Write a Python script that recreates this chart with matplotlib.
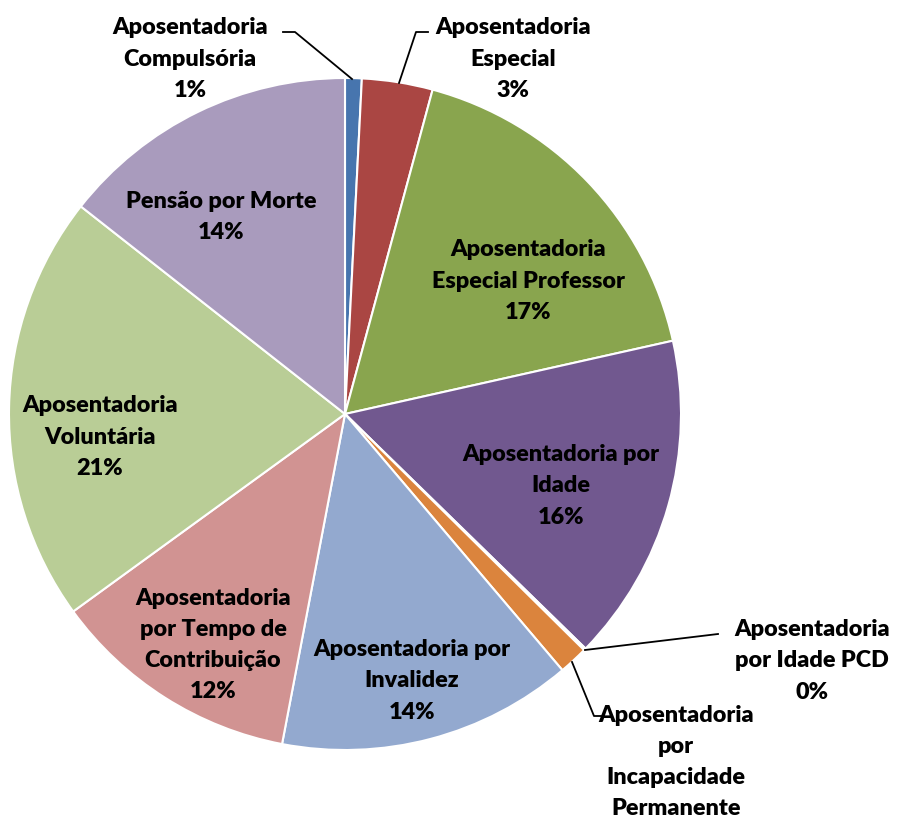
import matplotlib
matplotlib.use("Agg")
import matplotlib.pyplot as plt

categories = [
    "Aposentadoria\nCompulsória",
    "Aposentadoria\nEspecial",
    "Aposentadoria\nEspecial Professor",
    "Aposentadoria por\nIdade",
    "Aposentadoria\npor Idade PCD",
    "Aposentadoria\npor\nIncapacidade\nPermanente",
    "Aposentadoria por\nInvalidez",
    "Aposentadoria\npor Tempo de\nContribuição",
    "Aposentadoria\nVoluntária",
    "Pensão por Morte",
]
values = [0.8, 3.4, 17.3, 15.8, 0.1, 1.4, 14.2, 12.0, 20.6, 14.4]
show_pct = [True, True, True, True, True, False, True, True, True, True]
colors = ["#4775AE", "#AA4643", "#89A54E", "#71588F", "#4198AF",
          "#DB843D", "#93A9CF", "#D19392", "#B9CD96", "#A99BBD"]

W, H = 899, 828
fig = plt.figure(figsize=(W / 100, H / 100), dpi=100)
ax = fig.add_axes([0, 0, 1, 1])
ax.axis("off")

cx, cy, R = 345, 415, 336
ax.pie(values, colors=colors, startangle=90, counterclock=False,
       center=(cx, H - cy), radius=R,
       wedgeprops=dict(edgecolor="white", linewidth=1.5))
ax.set_xlim(0, W)
ax.set_ylim(0, H)
ax.set_aspect("equal")

font = dict(family=["Lato", "DejaVu Sans"], fontweight="heavy", fontsize=16.8,
            color="black", ha="center", va="center", linespacing=1.6)

# label positions (pixel space, y down)
label_pos = [
    (190, 59), (513, 59), (528, 281), (561, 486), (812, 661),
    (676, 762), (412, 681), (213, 645), (100, 437), (221, 217),
]
for cat, v, sp, (lx, ly) in zip(categories, values, show_pct, label_pos):
    txt = cat + (f"\n{v:.0f}%" if sp else "")
    ax.text(lx, H - ly, txt, **font, zorder=5)

# leader lines
leaders = [
    [(283, 33), (295, 33), (352, 80)],
    [(428, 33), (416, 33), (399, 84)],
    [(718, 635), (585, 651)],
    [(572, 663), (594, 717), (601, 717)],
]
for pts in leaders:
    xs, ys = zip(*pts)
    ax.plot(xs, [H - y for y in ys], color="black", lw=1.3, zorder=4)

fig.savefig("out.png", dpi=100, facecolor="white")
